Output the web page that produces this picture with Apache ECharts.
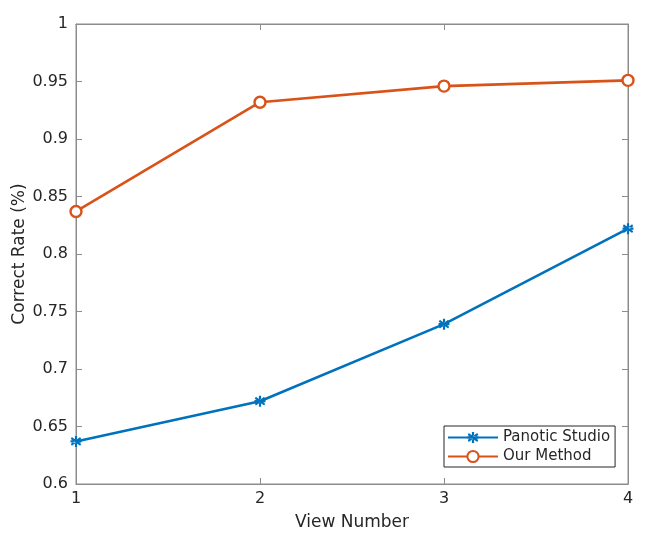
<!DOCTYPE html>
<html>
<head>
<meta charset="utf-8">
<script src="https://cdn.jsdelivr.net/npm/echarts@6/dist/echarts.min.js"></script>
<style>html,body{margin:0;padding:0;background:#fff}#main{width:648px;height:540px}</style>
</head>
<body>
<div id="main"></div>
<script>
var views = ['1', '2', '3', '4'];
var panoticStudio = [0.637, 0.672, 0.739, 0.822];
var ourMethod = [0.837, 0.932, 0.946, 0.951];
var yTicks = [0.6, 0.65, 0.7, 0.75, 0.8, 0.85, 0.9, 0.95, 1];

// asterisk marker like matlab's '*', thick arms so it reads as a blob
var star = 'path://M8,0 L12,0 L12,20 L8,20 Z M0.5,5.5 L2.5,2 L19.5,14.5 L17.5,18 Z M0.5,14.5 L2.5,18 L19.5,5.5 L17.5,2 Z M0,8 L20,8 L20,12 L0,12 Z';

var myChart = echarts.init(document.getElementById('main'));
var axisGray = '#8c8c8c';
var txt = '#262626';
var font = 'DejaVu Sans';

var option = {
    animation: false,
    textStyle: { fontFamily: font },
    grid: { left: 76, right: 20, top: 24, bottom: 56, show: true, borderColor: axisGray, borderWidth: 1,
        containLabel: false, outerBoundsMode: 'none' },
    legend: {
        left: 444, top: 426,
        orient: 'vertical',
        itemWidth: 50, itemHeight: 14, itemGap: 4,
        padding: [4, 5, 3, 3],
        borderColor: '#262626', borderWidth: 1, borderRadius: 0,
        backgroundColor: '#fff',
        textStyle: { fontSize: 15, color: txt, fontFamily: font },
        data: ['Panotic Studio', 'Our Method']
    },
    xAxis: [{
        type: 'value', min: 1, max: 4, interval: 1,
        name: 'View Number', nameLocation: 'middle', nameGap: 30,
        nameTextStyle: { fontSize: 17, color: txt },
        axisLine: { lineStyle: { color: axisGray } },
        axisTick: { inside: true, length: 6, lineStyle: { color: axisGray } },
        axisLabel: { fontSize: 16, color: txt, margin: 7,
            formatter: function (v) { return views[v - 1] || ''; } },
        splitLine: { show: false }
    }, {
        type: 'value', min: 1, max: 4, interval: 1, position: 'top',
        axisLine: { lineStyle: { color: axisGray } },
        axisTick: { inside: true, length: 6, lineStyle: { color: axisGray } },
        axisLabel: { show: false }, splitLine: { show: false }
    }],
    yAxis: [{
        type: 'value', min: 0.6, max: 1, interval: 0.05,
        name: 'Correct Rate (%)', nameLocation: 'middle', nameGap: 48, nameMoveOverlap: false,
        nameTextStyle: { fontSize: 17, color: txt },
        axisLine: { show: true, lineStyle: { color: axisGray } },
        axisTick: { show: true, inside: true, length: 6, lineStyle: { color: axisGray } },
        axisLabel: { fontSize: 16, color: txt, margin: 8,
            formatter: function (v) {
                for (var i = 0; i < yTicks.length; i++) {
                    if (Math.abs(yTicks[i] - v) < 1e-6) return String(yTicks[i]);
                }
                return '';
            } },
        splitLine: { show: false }
    }, {
        type: 'value', min: 0.6, max: 1, interval: 0.05, position: 'right',
        axisLine: { show: true, lineStyle: { color: axisGray } },
        axisTick: { show: true, inside: true, length: 6, lineStyle: { color: axisGray } },
        axisLabel: { show: false }, splitLine: { show: false }
    }],
    series: [{
        name: 'Panotic Studio',
        type: 'line',
        data: panoticStudio.map(function (v, i) { return [Number(views[i]), v]; }),
        symbol: star, symbolSize: 11,
        itemStyle: { color: '#0072BD' },
        lineStyle: { color: '#0072BD', width: 2.6 }
    }, {
        name: 'Our Method',
        type: 'line',
        data: ourMethod.map(function (v, i) { return [Number(views[i]), v]; }),
        symbol: 'circle', symbolSize: 11,
        itemStyle: { color: '#fff', borderColor: '#D95319', borderWidth: 2.4 },
        lineStyle: { color: '#D95319', width: 2.6 }
    }]
};
myChart.setOption(option);
</script>
</body>
</html>
